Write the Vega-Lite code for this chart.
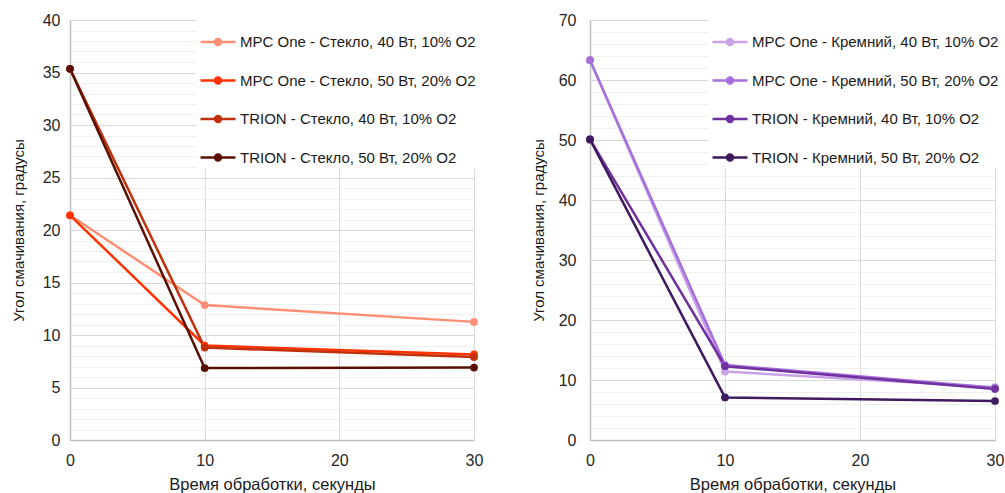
{
  "$schema": "https://vega.github.io/schema/vega-lite/v6.json",
  "background": "white",
  "padding": {"left": 11, "top": 12, "right": 4, "bottom": 0},
  "spacing": 48,
  "resolve": {"scale": {"color": "independent"}, "legend": {"color": "independent"}},
  "config": {
    "view": {"stroke": null},
    "font": "Liberation Sans",
    "axis": {
      "labelFont": "Liberation Sans",
      "labelFontSize": 16,
      "labelColor": "#262626",
      "titleFont": "Liberation Sans",
      "titleFontSize": 15,
      "titleFontWeight": "normal",
      "titleColor": "#1a1a1a",
      "ticks": false,
      "domainColor": "#bfbfbf",
      "domainWidth": 1.5,
      "gridWidth": 1,
      "labelFlush": false,
      "labelOverlap": false
    },
    "legend": {
      "labelFont": "Liberation Sans",
      "labelFontSize": 15,
      "labelColor": "#1a1a1a",
      "labelLimit": 400
    }
  },
  "datasets": {
    "glass": [
      {"series": "MPC One - Стекло, 40 Вт, 10% O2", "t": 0, "angle": 21.4},
      {"series": "MPC One - Стекло, 40 Вт, 10% O2", "t": 10, "angle": 12.85},
      {"series": "MPC One - Стекло, 40 Вт, 10% O2", "t": 30, "angle": 11.25},
      {"series": "MPC One - Стекло, 50 Вт, 20% O2", "t": 0, "angle": 21.4},
      {"series": "MPC One - Стекло, 50 Вт, 20% O2", "t": 10, "angle": 9.0},
      {"series": "MPC One - Стекло, 50 Вт, 20% O2", "t": 30, "angle": 8.15},
      {"series": "TRION - Стекло, 40 Вт, 10% O2", "t": 0, "angle": 35.35},
      {"series": "TRION - Стекло, 40 Вт, 10% O2", "t": 10, "angle": 8.8},
      {"series": "TRION - Стекло, 40 Вт, 10% O2", "t": 30, "angle": 7.9},
      {"series": "TRION - Стекло, 50 Вт, 20% O2", "t": 0, "angle": 35.35},
      {"series": "TRION - Стекло, 50 Вт, 20% O2", "t": 10, "angle": 6.85},
      {"series": "TRION - Стекло, 50 Вт, 20% O2", "t": 30, "angle": 6.9}
    ],
    "silicon": [
      {"series": "MPC One - Кремний,  40 Вт, 10% O2", "t": 0, "angle": 63.3},
      {"series": "MPC One - Кремний,  40 Вт, 10% O2", "t": 10, "angle": 11.4},
      {"series": "MPC One - Кремний,  40 Вт, 10% O2", "t": 30, "angle": 8.8},
      {"series": "MPC One - Кремний,  50 Вт, 20% O2", "t": 0, "angle": 63.3},
      {"series": "MPC One - Кремний,  50 Вт, 20% O2", "t": 10, "angle": 12.5},
      {"series": "MPC One - Кремний,  50 Вт, 20% O2", "t": 30, "angle": 8.7},
      {"series": "TRION - Кремний, 40 Вт, 10% O2", "t": 0, "angle": 50.1},
      {"series": "TRION - Кремний, 40 Вт, 10% O2", "t": 10, "angle": 12.3},
      {"series": "TRION - Кремний, 40 Вт, 10% O2", "t": 30, "angle": 8.5},
      {"series": "TRION - Кремний, 50 Вт, 20% O2", "t": 0, "angle": 50.1},
      {"series": "TRION - Кремний, 50 Вт, 20% O2", "t": 10, "angle": 7.1},
      {"series": "TRION - Кремний, 50 Вт, 20% O2", "t": 30, "angle": 6.5}
    ]
  },
  "hconcat": [
    {
      "name": "g",
      "width": 404,
      "height": 420,
      "data": {"name": "glass"},
      "mark": {"type": "line", "strokeWidth": 2.5, "point": {"filled": true, "size": 60, "opacity": 1}},
      "encoding": {
        "x": {
          "field": "t", "type": "quantitative",
          "scale": {"domain": [0, 30], "nice": false, "zero": false},
          "axis": {"values": [0, 10, 20, 30], "title": "Время обработки, секунды", "titleFontSize": 16.5, "grid": true, "gridColor": "#d9d9d9", "labelPadding": 12, "titlePadding": 8}
        },
        "y": {
          "field": "angle", "type": "quantitative",
          "scale": {"domain": [0, 40], "nice": false},
          "axis": {
            "values": [0,1,2,3,4,5,6,7,8,9,10,11,12,13,14,15,16,17,18,19,20,21,22,23,24,25,26,27,28,29,30,31,32,33,34,35,36,37,38,39,40],
            "labelExpr": "datum.value % 5 === 0 ? datum.label : ''",
            "gridColor": {"condition": {"test": "datum.value % 5 === 0", "value": "#d9d9d9"}, "value": "#efefef"},
            "title": "Угол смачивания, градусы",
            "labelPadding": 10,
            "titlePadding": 16
          }
        },
        "color": {
          "field": "series", "type": "nominal",
          "scale": {
            "domain": ["MPC One - Стекло, 40 Вт, 10% O2", "MPC One - Стекло, 50 Вт, 20% O2", "TRION - Стекло, 40 Вт, 10% O2", "TRION - Стекло, 50 Вт, 20% O2"],
            "range": ["#ff8f73", "#ff3300", "#c0300a", "#5a1000"]
          },
          "legend": {
            "title": null,
            "orient": "none",
            "legendX": 126,
            "legendY": 0,
            "padding": 3,
            "fillColor": "white",
            "symbolType": "M-1,0H1M-0.17,0a0.17,0.17 0 1,0 0.34,0a0.17,0.17 0 1,0 -0.34,0",
            "symbolSize": 1225,
            "symbolStrokeWidth": 2.5,
            "labelOffset": 3,
            "rowPadding": 11.5,
            "encode": {"symbols": {"update": {"fill": {"scale": "g_color", "field": "value"}, "opacity": {"value": 1}}}}
          }
        }
      }
    },
    {
      "name": "s",
      "width": 405,
      "height": 420,
      "data": {"name": "silicon"},
      "mark": {"type": "line", "strokeWidth": 2.5, "point": {"filled": true, "size": 60, "opacity": 1}},
      "encoding": {
        "x": {
          "field": "t", "type": "quantitative",
          "scale": {"domain": [0, 30], "nice": false, "zero": false},
          "axis": {"values": [0, 10, 20, 30], "title": "Время обработки, секунды", "titleFontSize": 16.5, "grid": true, "gridColor": "#d9d9d9", "labelPadding": 12, "titlePadding": 8}
        },
        "y": {
          "field": "angle", "type": "quantitative",
          "scale": {"domain": [0, 70], "nice": false},
          "axis": {
            "values": [0,2,4,6,8,10,12,14,16,18,20,22,24,26,28,30,32,34,36,38,40,42,44,46,48,50,52,54,56,58,60,62,64,66,68,70],
            "labelExpr": "datum.value % 10 === 0 ? datum.label : ''",
            "gridColor": {"condition": {"test": "datum.value % 10 === 0", "value": "#d9d9d9"}, "value": "#efefef"},
            "title": "Угол смачивания, градусы",
            "labelPadding": 14,
            "titlePadding": 12
          }
        },
        "color": {
          "field": "series", "type": "nominal",
          "scale": {
            "domain": ["MPC One - Кремний,  40 Вт, 10% O2", "MPC One - Кремний,  50 Вт, 20% O2", "TRION - Кремний, 40 Вт, 10% O2", "TRION - Кремний, 50 Вт, 20% O2"],
            "range": ["#c9a3e8", "#a66fda", "#7030a0", "#3f1a5e"]
          },
          "legend": {
            "title": null,
            "orient": "none",
            "legendX": 118,
            "legendY": 0,
            "padding": 3,
            "fillColor": "white",
            "symbolType": "M-1,0H1M-0.17,0a0.17,0.17 0 1,0 0.34,0a0.17,0.17 0 1,0 -0.34,0",
            "symbolSize": 1225,
            "symbolStrokeWidth": 2.5,
            "labelOffset": 3,
            "rowPadding": 11.5,
            "encode": {"symbols": {"update": {"fill": {"scale": "s_color", "field": "value"}, "opacity": {"value": 1}}}}
          }
        }
      }
    }
  ]
}
